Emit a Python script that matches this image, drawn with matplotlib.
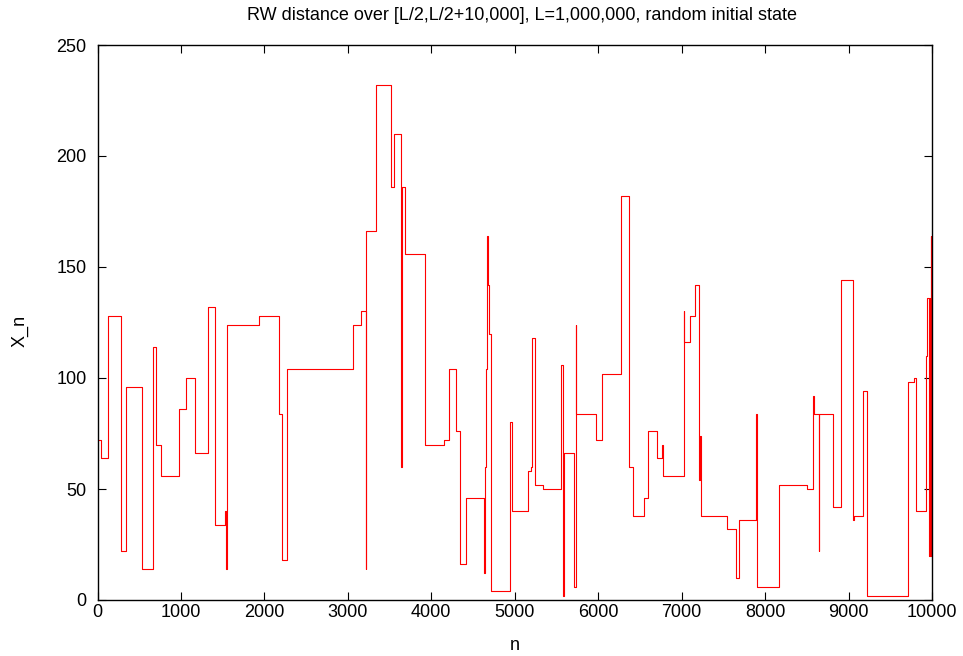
import matplotlib
matplotlib.use('Agg')
import matplotlib.pyplot as plt

plt.rcParams['font.family'] = ['Liberation Sans', 'DejaVu Sans']

# step start positions n and the walk distance X_n held from there on
n_start = [0, 40, 120, 276, 340, 532, 660, 700, 764, 972,
           1064, 1172, 1320, 1408, 1524, 1538, 1550, 1940, 2172, 2216,
           2268, 3064, 3156, 3212, 3220, 3336, 3512, 3552, 3632, 3644,
           3684, 3928, 4156, 4216, 4292, 4344, 4416, 4630, 4645, 4657,
           4670, 4682, 4694, 4710, 4718, 4944, 4970, 5164, 5200, 5212,
           5244, 5336, 5550, 5578, 5590, 5712, 5730, 5738, 5968, 6040,
           6276, 6372, 6416, 6544, 6600, 6708, 6760, 6780, 7024, 7028,
           7104, 7164, 7204, 7220, 7236, 7540, 7652, 7692, 7892, 7908,
           8172, 8508, 8576, 8584, 8640, 8648, 8812, 8912, 9052, 9060,
           9172, 9220, 9710, 9790, 9814, 9926, 9946, 9970, 9976, 9982,
           9988, 9994, 10000]
x_n = [72, 64, 128, 22, 96, 14, 114, 70, 56, 86,
       100, 66, 132, 34, 40, 14, 124, 128, 84, 18,
       104, 124, 130, 14, 166, 232, 186, 210, 60, 186,
       156, 70, 72, 104, 76, 16, 46, 12, 60, 104,
       164, 142, 120, 94, 4, 80, 40, 58, 60, 118,
       52, 50, 106, 2, 66, 6, 124, 84, 72, 102,
       182, 60, 38, 46, 76, 64, 70, 56, 130, 116,
       128, 142, 54, 74, 38, 32, 10, 36, 84, 6,
       52, 50, 92, 84, 22, 84, 42, 144, 36, 38,
       94, 2, 98, 100, 40, 110, 136, 20, 136, 20,
       164, 30, 164]

W, H = 963, 656
fs = 13

fig = plt.figure(figsize=(W / 100, H / 100), dpi=100, facecolor='white')
ax = fig.add_axes([97.5 / W, 1 - 600 / H, (932 - 97.5) / W, 555 / H])

ax.step(n_start, x_n, where='post', color='red', linewidth=0.8)

ax.set_xlim(0, 10000)
ax.set_ylim(0, 250)
ax.set_xticks(range(0, 10001, 1000))
ax.set_yticks(range(0, 251, 50))
ax.tick_params(direction='in', length=6, width=0.8, labelsize=fs,
               top=True, right=True)
ax.tick_params(axis='x', pad=3)
ax.tick_params(axis='y', pad=8)
for s in ax.spines.values():
    s.set_linewidth(1.0)

# axis titles and heading placed in figure pixels
fig.text(515 / W, 1 - 645 / H, 'n', ha='center', va='center', fontsize=fs)
fig.text(20 / W, 1 - 331 / H, 'X_n', rotation=90, ha='center', va='center', fontsize=fs)
fig.text(522 / W, 1 - 15 / H, 'RW distance over [L/2,L/2+10,000], L=1,000,000, random initial state',
         ha='center', va='center', fontsize=fs)

fig.savefig('out.png', dpi=100)
